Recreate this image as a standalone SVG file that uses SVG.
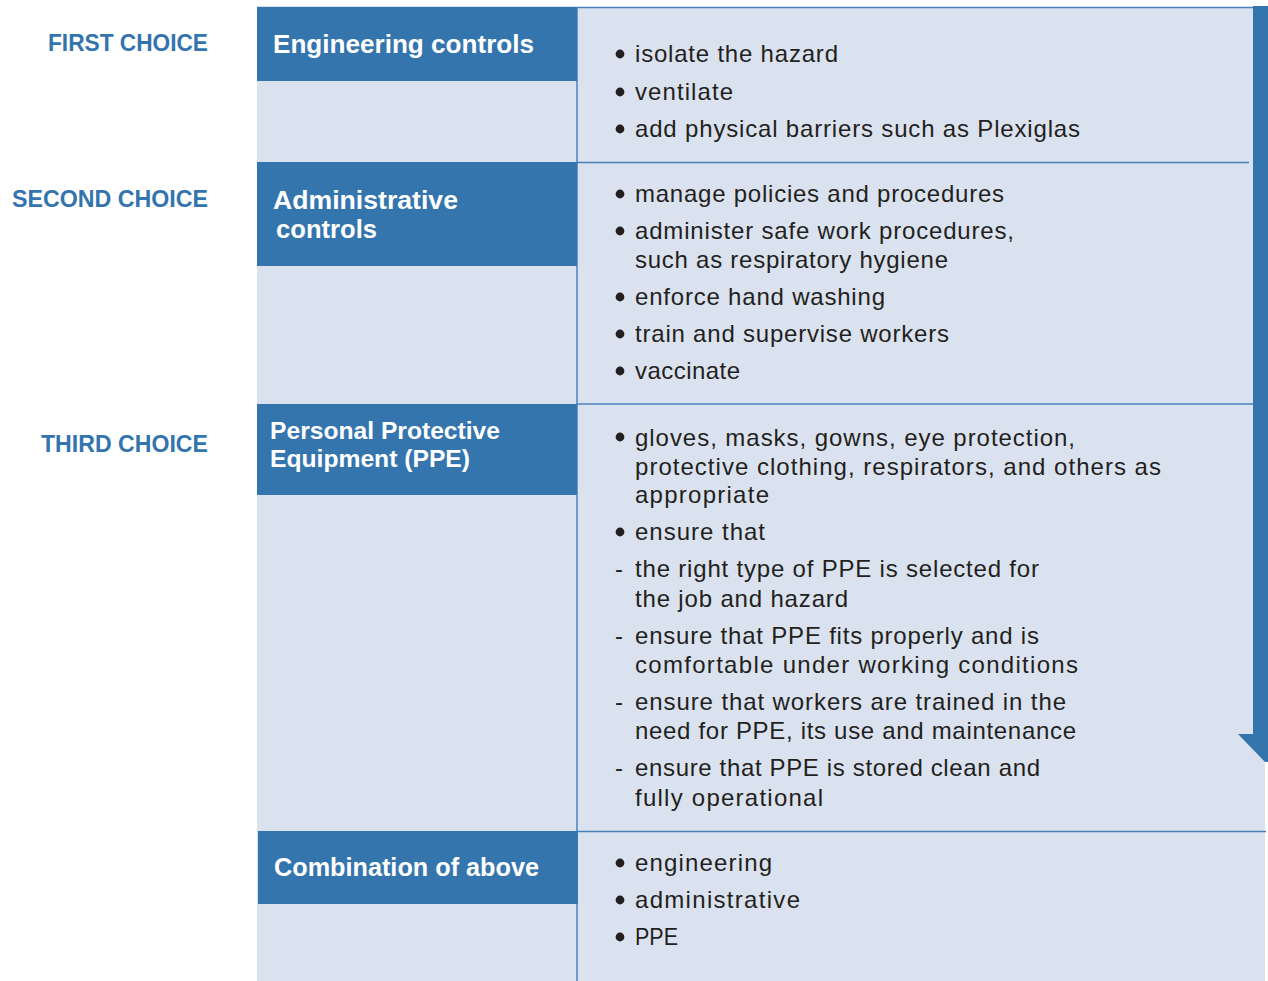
<svg xmlns="http://www.w3.org/2000/svg" width="1268" height="981" viewBox="0 0 1268 981">
<style>
.bg{fill:#dbe2ef}
.hd{fill:#3575ae}
.sep{stroke:#4a80bb;stroke-width:1.5;fill:none}
.ht{font-family:"Liberation Sans",Arial,sans-serif;font-weight:bold;font-size:26px;fill:#ffffff}
.hs{font-size:24px}
.ch{font-family:"Liberation Sans",Arial,sans-serif;font-weight:bold;font-size:23px;fill:#3474ae;text-anchor:end}
.bt{font-family:"Liberation Sans",Arial,sans-serif;font-size:24px;fill:#231f20}
.bu{fill:#231f20}
</style>
<rect width="1268" height="981" fill="#ffffff"/>
<g id="background">
<rect class="bg" x="257" y="7" width="320" height="974"/>
<rect class="bg" x="577" y="7" width="688" height="974"/>
</g>
<g id="choice-labels">
<text class="ch" x="208" y="51" textLength="160" lengthAdjust="spacingAndGlyphs">FIRST CHOICE</text>
<text class="ch" x="208" y="207" textLength="196" lengthAdjust="spacingAndGlyphs">SECOND CHOICE</text>
<text class="ch" x="208" y="452" textLength="167" lengthAdjust="spacingAndGlyphs">THIRD CHOICE</text>
</g>
<g id="connectors">
<line class="sep" x1="257" y1="7.5" x2="1253" y2="7.5"/>
<line class="sep" x1="577" y1="7" x2="577" y2="981"/>
<line class="sep" x1="577" y1="162.5" x2="1249" y2="162.5"/>
<line class="sep" x1="577" y1="404" x2="1253" y2="404"/>
<line class="sep" x1="577" y1="831.5" x2="1266" y2="831.5"/>
<polygon class="hd" points="1253,6 1268,6 1268,762 1265,762 1238,734 1253,734"/>
</g>
<g id="engineering">
<rect class="hd" x="257" y="7" width="320" height="74"/>
<text class="ht" x="273" y="53" textLength="261" lengthAdjust="spacingAndGlyphs">Engineering controls</text>
<circle class="bu" cx="620" cy="54" r="4.4"/>
<text class="bt" x="635" y="62" textLength="203" lengthAdjust="spacing">isolate the hazard</text>
<circle class="bu" cx="620" cy="92" r="4.4"/>
<text class="bt" x="635" y="100" textLength="98" lengthAdjust="spacing">ventilate</text>
<circle class="bu" cx="620" cy="129" r="4.4"/>
<text class="bt" x="635" y="137" textLength="445" lengthAdjust="spacing">add physical barriers such as Plexiglas</text>
</g>
<g id="administrative">
<rect class="hd" x="257" y="162" width="320" height="104"/>
<text class="ht" x="273" y="209" textLength="185" lengthAdjust="spacingAndGlyphs">Administrative</text>
<text class="ht" x="276" y="238" textLength="101" lengthAdjust="spacingAndGlyphs">controls</text>
<circle class="bu" cx="620" cy="194" r="4.4"/>
<text class="bt" x="635" y="202" textLength="369" lengthAdjust="spacing">manage policies and procedures</text>
<circle class="bu" cx="620" cy="231" r="4.4"/>
<text class="bt" x="635" y="239" textLength="379" lengthAdjust="spacing">administer safe work procedures,</text>
<text class="bt" x="635" y="268" textLength="313" lengthAdjust="spacing">such as respiratory hygiene</text>
<circle class="bu" cx="620" cy="297" r="4.4"/>
<text class="bt" x="635" y="305" textLength="250" lengthAdjust="spacing">enforce hand washing</text>
<circle class="bu" cx="620" cy="334" r="4.4"/>
<text class="bt" x="635" y="342" textLength="314" lengthAdjust="spacing">train and supervise workers</text>
<circle class="bu" cx="620" cy="371" r="4.4"/>
<text class="bt" x="635" y="379" textLength="105" lengthAdjust="spacing">vaccinate</text>
</g>
<g id="ppe">
<rect class="hd" x="257" y="404" width="320" height="91"/>
<text class="ht hs" x="270" y="439" textLength="230" lengthAdjust="spacingAndGlyphs">Personal Protective</text>
<text class="ht hs" x="270" y="467" textLength="200" lengthAdjust="spacingAndGlyphs">Equipment (PPE)</text>
<circle class="bu" cx="620" cy="437" r="4.4"/>
<text class="bt" x="635" y="446" textLength="440" lengthAdjust="spacing">gloves, masks, gowns, eye protection,</text>
<text class="bt" x="635" y="475" textLength="526" lengthAdjust="spacing">protective clothing, respirators, and others as</text>
<text class="bt" x="635" y="503" textLength="134" lengthAdjust="spacing">appropriate</text>
<circle class="bu" cx="620" cy="532" r="4.4"/>
<text class="bt" x="635" y="540" textLength="130" lengthAdjust="spacing">ensure that</text>
<text class="bt" x="615" y="577">-</text>
<text class="bt" x="635" y="577" textLength="404" lengthAdjust="spacing">the right type of PPE is selected for</text>
<text class="bt" x="635" y="607" textLength="213" lengthAdjust="spacing">the job and hazard</text>
<text class="bt" x="615" y="644">-</text>
<text class="bt" x="635" y="644" textLength="404" lengthAdjust="spacing">ensure that PPE fits properly and is</text>
<text class="bt" x="635" y="673" textLength="443" lengthAdjust="spacing">comfortable under working conditions</text>
<text class="bt" x="615" y="710">-</text>
<text class="bt" x="635" y="710" textLength="431" lengthAdjust="spacing">ensure that workers are trained in the</text>
<text class="bt" x="635" y="739" textLength="441" lengthAdjust="spacing">need for PPE, its use and maintenance</text>
<text class="bt" x="615" y="776">-</text>
<text class="bt" x="635" y="776" textLength="405" lengthAdjust="spacing">ensure that PPE is stored clean and</text>
<text class="bt" x="635" y="806" textLength="188" lengthAdjust="spacing">fully operational</text>
</g>
<g id="combination">
<rect class="hd" x="258" y="831" width="320" height="73"/>
<text class="ht" x="274" y="876" textLength="265" lengthAdjust="spacingAndGlyphs">Combination of above</text>
<circle class="bu" cx="620" cy="863" r="4.4"/>
<text class="bt" x="635" y="871" textLength="137" lengthAdjust="spacing">engineering</text>
<circle class="bu" cx="620" cy="900" r="4.4"/>
<text class="bt" x="635" y="908" textLength="165" lengthAdjust="spacing">administrative</text>
<circle class="bu" cx="620" cy="937" r="4.4"/>
<text class="bt" x="635" y="945" textLength="43" lengthAdjust="spacingAndGlyphs">PPE</text>
</g>
</svg>
